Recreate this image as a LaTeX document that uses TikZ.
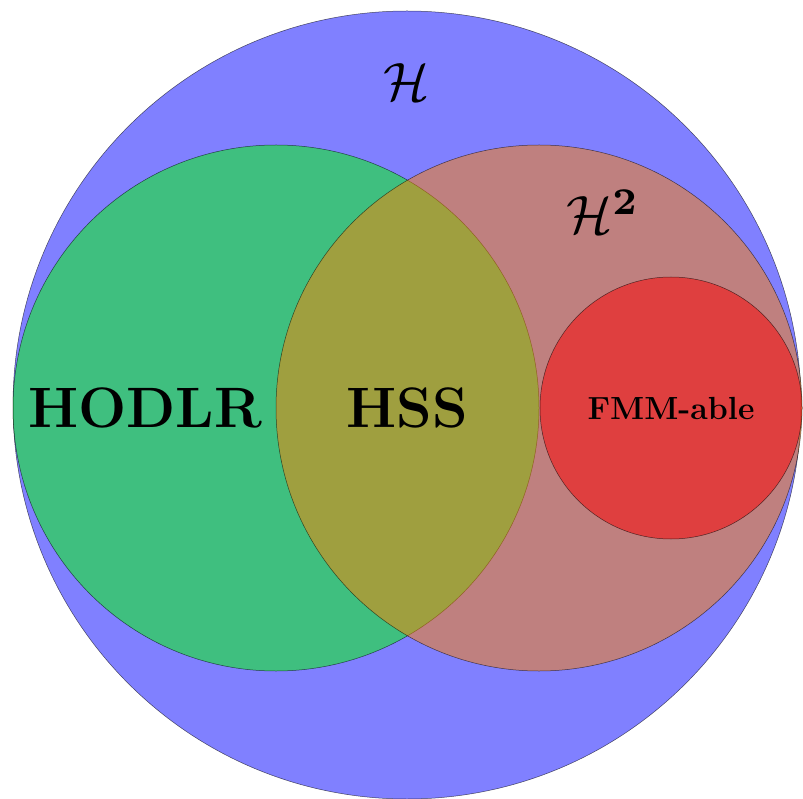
\documentclass[tikz,border=0pt]{standalone}
\usepackage{amsmath}
\begin{document}
\begin{tikzpicture}[x=1pt,y=-1pt,
  setcirc/.style={draw=black,line width=0.5pt,draw opacity=0.6},
  biglabel/.style={font=\fontsize{57}{60}\selectfont\bfseries},
  smalllabel/.style={font=\fontsize{32}{36}\selectfont\bfseries},
  callabel/.style={font=\fontsize{10}{12}\selectfont,scale=5.4}]
\useasboundingbox (0,0) rectangle (803,799);
\fill[white] (0,0) rectangle (803,799);
\draw[setcirc,fill=blue!50] (407,405) circle (394);
\draw[setcirc,fill=green,fill opacity=0.5] (276,408) circle (263);
\draw[setcirc,fill=orange,fill opacity=0.5] (539,408) circle (263);
\draw[setcirc,fill=red,fill opacity=0.5] (671,408) circle (131);
\node[callabel] (h) at (407,82) {$\mathcal{H}$};
\node[callabel] (h2) at (603,212) {$\mathcal{H}^{\mathbf{2}}$};
\node[biglabel] (hodlr) at (145,408) {HODLR};
\node[biglabel] (hss) at (407,408) {HSS};
\node[smalllabel] (fmm) at (671,408) {FMM-able};
\end{tikzpicture}
\end{document}
